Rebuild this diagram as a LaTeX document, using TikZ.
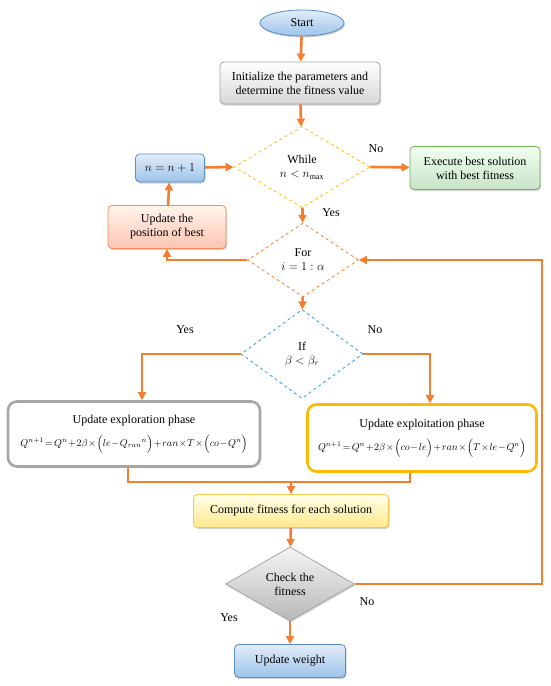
\documentclass[tikz,border=0pt]{standalone}
\usepackage{amsmath,amssymb}
\usepackage{fontspec}
\setmainfont{Liberation Serif}
\usepackage{tikz}
\usetikzlibrary{arrows.meta,shapes.geometric,shadows}

\definecolor{flow}{HTML}{F47D30}
\definecolor{bluedge}{HTML}{5B8CC4}
\definecolor{bluetop}{HTML}{E2EDF9}
\definecolor{bluebot}{HTML}{9CC3EA}
\definecolor{greenedge}{HTML}{77B05A}
\definecolor{salmonedge}{HTML}{EE8D62}
\definecolor{grayedge}{HTML}{A6A6A6}
\definecolor{goldedge}{HTML}{FFBA00}
\definecolor{yellowedge}{HTML}{F2C94C}
\definecolor{dashyellow}{HTML}{FFC21A}
\definecolor{dashorange}{HTML}{F5893A}
\definecolor{dashblue}{HTML}{3FA5DE}

\newcommand{\tightmath}{\fontsize{10.2}{12}\selectfont\medmuskip=1.2mu\thickmuskip=2.2mu}

\tikzset{
  shade/.style={drop shadow={opacity=0.35,shadow xshift=1pt,shadow yshift=-1.5pt}},
  blockbox/.style={rectangle,rounded corners=4pt,draw,line width=0.8pt,align=center,
    inner sep=2pt,shade},
  bluebox/.style={blockbox,draw=bluedge,top color=bluetop,bottom color=bluebot},
  graybox/.style={blockbox,draw=grayedge,top color=white,bottom color=black!16},
  greenbox/.style={blockbox,draw=greenedge,top color=green!6,bottom color=green!50!black!22},
  salmonbox/.style={blockbox,draw=salmonedge,top color=orange!8,bottom color=orange!45!red!30},
  yellowbox/.style={blockbox,draw=yellowedge,top color=yellow!8,bottom color=yellow!60!orange!45},
  phasebox/.style={rectangle,rounded corners=9pt,draw,line width=2.6pt,fill=white,
    align=center,inner sep=2pt},
  decision/.style={diamond,draw,dashed,line width=0.9pt,align=center,inner sep=0pt},
  flowline/.style={draw=flow,line width=2.6pt},
  arr/.style={flowline,-{Triangle[length=8pt,width=8pt]}},
  lbl/.style={inner sep=0pt}
}

\begin{document}
\begin{tikzpicture}[x=1pt,y=-1pt,font=\fontsize{12}{14}\selectfont]
  \useasboundingbox (0,0) rectangle (550,686);
  % Top of the flow
  \node[ellipse,draw=bluedge,line width=0.8pt,top color=bluetop,bottom color=bluebot,
    minimum width=84pt,minimum height=26pt,inner sep=0pt,shade] (start) at (302,23) {Start};
  \node[graybox,minimum width=160pt,minimum height=42pt] (init) at (300,83)
    {Initialize the parameters and\\determine the fitness value};
  \node[decision,draw=dashyellow,minimum width=136pt,minimum height=81pt] (while) at (302,167)
    {While\\$n<n_{\max}$};
  \node[bluebox,minimum width=69pt,minimum height=28pt] (nstep) at (170,168) {$n=n+1$};
  \node[greenbox,minimum width=130pt,minimum height=43pt] (exec) at (475,168)
    {Execute best solution\\with best fitness};
  \node[salmonbox,minimum width=118pt,minimum height=43pt] (upd) at (167,227)
    {Update the\\position of best};
  \node[decision,draw=dashorange,minimum width=111pt,minimum height=74pt] (for) at (303,260)
    {For\\$i=1:\alpha$};
  \node[decision,draw=dashblue,minimum width=122pt,minimum height=89pt] (if) at (302,354)
    {If\\$\beta<\beta_r$};
  % Two phases
  \node[phasebox,draw=grayedge,minimum width=252pt,minimum height=65pt] (explore) at (134,434)
    {Update exploration phase\\[8pt]
     {\tightmath$Q^{n+1}=Q^{n}+2\beta\times\Bigl(le-Q_{ran}{}^{n}\Bigr)+ran\times T\times\Bigl(co-Q^{n}\Bigr)$}};
  \node[phasebox,draw=goldedge,minimum width=229pt,minimum height=67pt] (exploit) at (422,438)
    {Update exploitation phase\\[8pt]
     {\tightmath$Q^{n+1}=Q^{n}+2\beta\times\Bigl(co-le\Bigr)+ran\times\Bigl(T\times le-Q^{n}\Bigr)$}};
  % Bottom of the flow
  \node[yellowbox,minimum width=195pt,minimum height=33pt] (compute) at (291,511)
    {Compute fitness for each solution};
  \node[diamond,draw=grayedge,line width=0.8pt,top color=black!4,bottom color=black!28,
    minimum width=129pt,minimum height=74pt,inner sep=0pt,align=center,shade] (check) at (290,584)
    {Check the\\fitness};
  \node[bluebox,minimum width=111pt,minimum height=33pt] (weight) at (290,661) {Update weight};
  \coordinate (merge) at (291,482);
  \coordinate (rloop) at (542,420);
  % Connectors
  \draw[arr] (start) -- (init);
  \draw[arr] (init) -- (while);
  \draw[arr] (while) -- (for);
  \draw[arr] (for) -- (if);
  \draw[arr] (nstep) -- (while.west);
  \draw[arr] (while.east) -- (exec);
  \draw[arr] (upd) -- (nstep);
  \draw[arr] (for.west) -| (upd.south);
  \draw[arr] (if.west) -| ([xshift=8pt]explore.north);
  \draw[arr] (if.east) -| ([xshift=8pt]exploit.north);
  \draw[flowline] ([xshift=-6pt]explore.south) |- (merge) -| ([xshift=-12pt]exploit.south);
  \draw[arr] (merge) -- (compute);
  \draw[arr] (compute) -- (check);
  \draw[arr] (check) -- (weight);
  \draw[arr] (check.east) -| (rloop) |- (for.east);
  % Labels
  \node[lbl] (no1) at (376,149) {No};
  \node[lbl] (yes1) at (331,213) {Yes};
  \node[lbl] (yes2) at (185,330) {Yes};
  \node[lbl] (no2) at (375,330) {No};
  \node[lbl] (no3) at (367,602) {No};
  \node[lbl] (yes3) at (229,618) {Yes};
\end{tikzpicture}
\end{document}
